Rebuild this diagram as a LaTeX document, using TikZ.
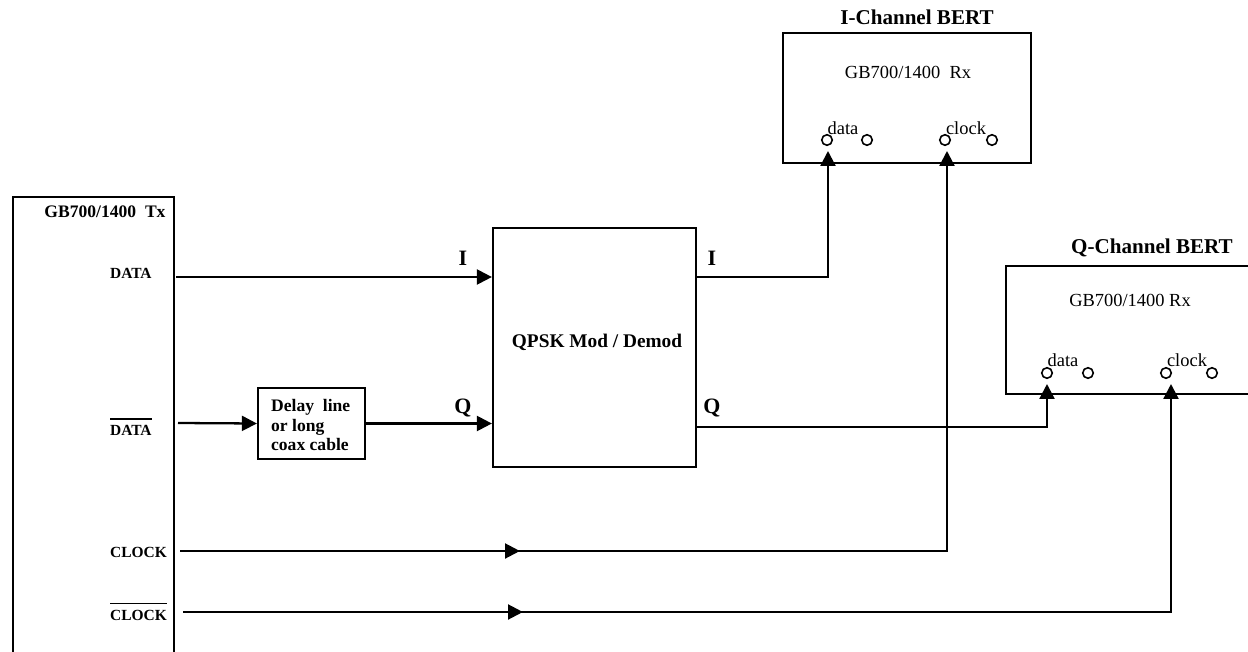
\documentclass[tikz,border=0pt]{standalone}
\usepackage{fontspec}
\setmainfont{Liberation Serif}
\usetikzlibrary{arrows.meta,decorations.markings,positioning}
% inverted signal name, bar set a little above the capitals
\newcommand\barsig[1]{\setbox0\hbox{#1}\rlap{\rule[\dimexpr\ht0+3.5pt\relax]{\wd0}{0.8pt}}\box0}

\begin{document}
\begin{tikzpicture}[x=0.02cm,y=-0.02cm,line width=1.3pt,
  >={Triangle[length=8.5pt,width=8.5pt]},
  block/.style={draw,line width=1.3pt,inner sep=0pt},
  siglabel/.style={font=\bfseries\fontsize{8.8}{10}\selectfont,inner sep=0pt},
  chlabel/.style={font=\bfseries\fontsize{12.5}{14}\selectfont,inner sep=0pt},
  title/.style={font=\bfseries\fontsize{12}{14}\selectfont,inner sep=0pt},
  rxtext/.style={font=\fontsize{10.5}{12}\selectfont,inner sep=0pt},
  porttext/.style={font=\fontsize{10.5}{12}\selectfont,inner sep=0pt},
  port/.style={draw,circle,line width=0.9pt,minimum size=6pt,inner sep=0pt},
  midarrow/.style={decoration={markings,mark=at position #1 with {\arrow{>}}},postaction={decorate}}
]
\useasboundingbox (0,0) rectangle (1248,652);
\clip (0,0) rectangle (1248,652);

% % Transmitter (runs off the bottom)
\node[block,anchor=north west,minimum width=3.22cm,minimum height=9.8cm] (tx) at (12,196) {};
\node[siglabel,font=\bfseries\fontsize{10}{12}\selectfont] (txname) at (105,212) {GB700/1400\hspace{0.5em}Tx};
\node[siglabel,anchor=west] (data) at (109,273) {DATA};
\node[siglabel,anchor=west] (ndata) at (109,427) {\barsig{DATA}};
\node[siglabel,anchor=west] (clock) at (109,552) {CLOCK};
\node[siglabel,anchor=west] (nclock) at (109,612) {\barsig{CLOCK}};
\coordinate (txd) at (176,277);
\coordinate (txnd) at (178,423);
\coordinate (txc) at (180,551);
\coordinate (txnc) at (183,612);

% % Delay and modem
\node[block,minimum width=2.14cm,minimum height=1.42cm] (delay) at (311.5,423.5) {};
\node[siglabel,font=\bfseries\fontsize{10}{11}\selectfont,align=left,anchor=west] (delaytext) at (270,425) {Delay\hspace{0.5em}line\\or long\\coax cable};
\node[block,minimum width=4.06cm,minimum height=4.78cm] (qpsk) at (594.5,347.5) {};
\node[title,font=\bfseries\fontsize{11}{13}\selectfont] (qpsktext) at (597,342) {QPSK Mod / Demod};
\node[chlabel] (iin) at (463,258) {I};
\node[chlabel] (qin) at (463,408) {Q};
\node[chlabel] (iout) at (712,258) {I};
\node[chlabel] (qout) at (712,408) {Q};

% % I-channel BERT
\node[block,minimum width=4.96cm,minimum height=2.6cm] (ibert) at (907,98) {};
\node[title] (ititle) at (917,17) {I-Channel BERT};
\node[rxtext] (irx) at (908,72) {GB700/1400\hspace{0.5em}Rx};
\node[porttext] (idlabel) at (843,128) {data};
\node[porttext] (iclabel) at (966,128) {clock};
\node[port] (id1) at (827,140) {};
\node[port] (id2) at (867,140) {};
\node[port] (ic1) at (945,140) {};
\node[port] (ic2) at (992,140) {};
\coordinate (idata) at (828,151);
\coordinate (iclk) at (947,151);

% % Q-channel BERT (runs off the right side)
\node[block,anchor=north west,minimum width=5.1cm,minimum height=2.56cm] (qbert) at (1005,265) {};
\node[title] (qtitle) at (1152,248) {Q-Channel BERT};
\node[rxtext] (qrx) at (1130,300) {GB700/1400 Rx};
\node[porttext] (qdlabel) at (1063,360) {data};
\node[porttext] (qclabel) at (1187,360) {clock};
\node[port] (qd1) at (1047,373) {};
\node[port] (qd2) at (1088,373) {};
\node[port] (qc1) at (1166,373) {};
\node[port] (qc2) at (1212,373) {};
\coordinate (qdata) at (1047,384);
\coordinate (qclk) at (1171,384);

% % Connections
\draw[->] (txd) -- (txd -| qpsk.west);
\draw[->] (txnd) -- (delay.west);
\draw[->] (delay.east) -- (delay.east -| qpsk.west);
\draw[->] (qpsk.east |- txd) -| (idata);
\draw[->] (qpsk.east |- 0,427) -| (qdata);
\draw[->,midarrow=6.8cm] (txc) -| (iclk);
\draw[->,midarrow=6.8cm] (txnc) -| (qclk);
\end{tikzpicture}
\end{document}
